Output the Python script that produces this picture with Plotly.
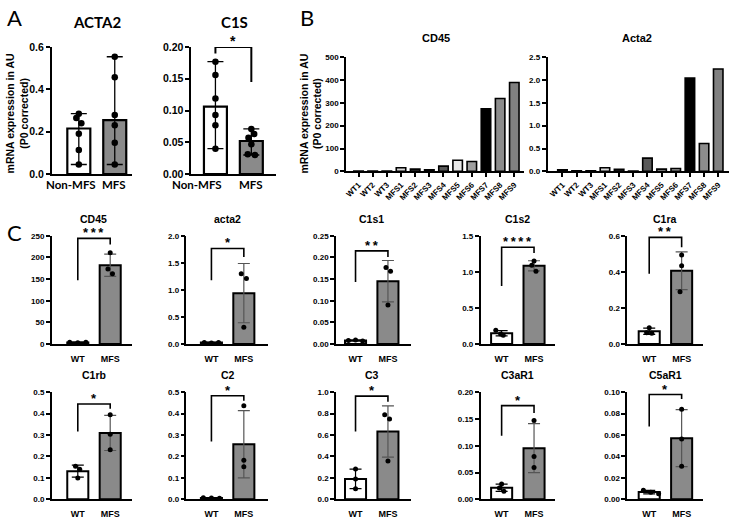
import numpy as np
import plotly.graph_objects as go

W, H = 730, 520

# ---------------- data ----------------
# Panel A (median with range, n=6)
a_groups = ["Non-MFS", "MFS"]
a_acta2_nonmfs = [0.285, 0.265, 0.240, 0.190, 0.113, 0.045]
a_acta2_mfs = [0.554, 0.457, 0.279, 0.230, 0.148, 0.045]
a_c1s_nonmfs = [0.177, 0.156, 0.119, 0.093, 0.077, 0.040]
a_c1s_mfs = [0.071, 0.063, 0.057, 0.047, 0.031, 0.030]

# Panel B (single samples)
b_samples = ["WT1", "WT2", "WT3", "MFS1", "MFS2", "MFS3", "MFS4", "MFS5", "MFS6", "MFS7", "MFS8", "MFS9"]
b_cd45 = [1, 2, 2, 16, 10, 7, 23, 49, 43, 274, 319, 389]
b_acta2 = [0.036, 0.014, 0.014, 0.079, 0.043, 0.010, 0.290, 0.050, 0.064, 2.04, 0.61, 2.24]

# Panel C (mean +/- SD, n=3)
c_groups = ["WT", "MFS"]
c_genes = ["CD45", "acta2", "C1s1", "C1s2", "C1ra", "C1rb", "C2", "C3", "C3aR1", "C5aR1"]
cd45_wt, cd45_mfs = [4, 3, 4], [211, 173, 162]
acta2_wt, acta2_mfs = [0.03, 0.02, 0.03], [1.30, 1.21, 0.31]
c1s1_wt, c1s1_mfs = [0.008, 0.009, 0.007], [0.177, 0.168, 0.090]
c1s2_wt, c1s2_mfs = [0.19, 0.14, 0.12], [1.15, 1.09, 1.01]
c1ra_wt, c1ra_mfs = [0.090, 0.063, 0.059], [0.494, 0.434, 0.290]
c1rb_wt, c1rb_mfs = [0.155, 0.140, 0.100], [0.395, 0.304, 0.231]
c2_wt, c2_mfs = [0.007, 0.006, 0.005], [0.437, 0.182, 0.152]
c3_wt, c3_mfs = [0.283, 0.189, 0.100], [0.790, 0.750, 0.358]
c3ar1_wt, c3ar1_mfs = [0.0286, 0.0213, 0.0151], [0.147, 0.080, 0.0596]
c5ar1_wt, c5ar1_mfs = [0.0085, 0.0067, 0.0052], [0.0841, 0.0562, 0.0310]
c_sig = ["***", "*", "**", "****", "**", "*", "*", "*", "*", "*"]

c_wt = [cd45_wt, acta2_wt, c1s1_wt, c1s2_wt, c1ra_wt, c1rb_wt, c2_wt, c3_wt, c3ar1_wt, c5ar1_wt]
c_mfs = [cd45_mfs, acta2_mfs, c1s1_mfs, c1s2_mfs, c1ra_mfs, c1rb_mfs, c2_mfs, c3_mfs, c3ar1_mfs, c5ar1_mfs]

# ---------------- styles / geometry ----------------
FONT = "Liberation Sans"
HUM = "Lato"
GRAY = "#8a8a8a"
b_fill = ["#1a1a1a", "#3a3a3a", "#5a5a5a", "#d9d9d9", "#404040", "#111111",
          "#595959", "#e8e8e8", "#a0a0a0", "#000000", "#8c8c8c", "#808080"]

# C y-axes: (top, dtick, format)
c_yaxis = [(250, 50, ".0f"), (2.0, 0.5, ".1f"), (0.25, 0.05, ".2f"), (1.5, 0.5, ".1f"), (0.6, 0.2, ".1f"),
           (0.5, 0.1, ".1f"), (0.5, 0.1, ".1f"), (1.0, 0.2, ".1f"), (0.20, 0.05, ".2f"), (0.10, 0.02, ".2f")]
# bracket heights (top, left leg end, right leg end) in data units
c_brackets = [(244, 147, 230), (1.765, 1.18, 1.61), (0.215, 0.143, 0.201), (1.34, 0.805, 1.26),
              (0.591, 0.389, 0.537), (0.445, 0.316, 0.4225), (0.483, 0.27, 0.46), (0.963, 0.632, 0.91),
              (0.175, 0.1185, 0.161), (0.0978, 0.068, 0.0936)]
# dot horizontal jitter
c_jit_wt = [[-0.25, 0, 0.25], [-0.22, 0, 0.22], [-0.22, 0, 0.22], [-0.18, -0.03, 0.05], [0, -0.08, 0.08],
            [-0.07, 0.06, 0], [-0.25, 0, 0.25], [0, 0, 0], [0, -0.07, 0.07], [-0.18, 0.05, 0.29]]
c_jit_mfs = [[0, -0.07, 0.07], [-0.08, 0.08, 0], [-0.06, 0.08, 0], [0, -0.07, 0.06], [0, 0, -0.05],
             [0, 0, 0], [0, 0, 0], [-0.1, 0.05, 0], [0, 0, 0], [0, 0, 0]]
c_cols = [(50, 76, 130), (185, 210, 267), (335, 354.5, 410), (480, 501, 555), (627, 649, 703)]
c_rows = [(235.2, 346), (395.3, 505)]
C_PPU = 32.5
THIN = "\u2009"


def xd(x0, x1):
    return [x0 / W, x1 / W]


def yd(top, bot):
    return [1 - bot / H, 1 - top / H]


layout = dict(width=W, height=H, margin=dict(l=0, r=0, t=0, b=0), paper_bgcolor="white",
              plot_bgcolor="white", showlegend=False)
shapes, annotations = [], []
traces = []
count = [0]


def new_axes(xpx, ypx, xr, yr, dtick, fmt, tickvals, ticktext, tfont, cfont, lw, tlen,
             xangle=0, xticks="outside", xtlen=4, xtcol="black", showx=True):
    count[0] += 1
    n = count[0]
    sx = "" if n == 1 else str(n)
    xref, yref = "x" + sx, "y" + sx
    layout["xaxis" + sx] = dict(domain=xd(*xpx), range=xr, anchor=yref, showline=True, linecolor="black",
                                linewidth=lw, ticks=xticks, ticklen=xtlen, tickwidth=lw, tickcolor=xtcol,
                                tickmode="array", tickvals=tickvals, ticktext=ticktext, tickfont=cfont,
                                showticklabels=showx,
                                tickangle=xangle, showgrid=False, zeroline=False, fixedrange=True)
    layout["yaxis" + sx] = dict(domain=yd(*ypx), range=yr, anchor=xref, showline=True, linecolor="black",
                                linewidth=lw, ticks="outside", ticklen=tlen, tickwidth=lw, tickcolor="black",
                                tick0=0, dtick=dtick, tickformat=fmt, tickfont=tfont, showgrid=False,
                                zeroline=False, fixedrange=True)
    return xref, yref


def bracket(xref, yref, top, yl, yr_, star, lw, size):
    shapes.append(dict(type="path", xref=xref, yref=yref, layer="above",
                       path=f"M 0,{yl} L 0,{top} L 1,{top} L 1,{yr_}",
                       line=dict(color="black", width=lw)))
    annotations.append(dict(xref=xref, yref=yref, x=0.5, y=top, text=THIN.join(star), showarrow=False,
                            yanchor="bottom", xanchor="center", yshift=-4,
                            font=dict(family=FONT, size=size, color="black", weight="bold")))


def label(x, y, text, size, family=FONT, bold=True, angle=0):
    annotations.append(dict(xref="paper", yref="paper", x=x / W, y=1 - y / H, text=text, showarrow=False,
                            xanchor="center", yanchor="middle", textangle=angle,
                            font=dict(family=family, size=size, color="black",
                                      weight="bold" if bold else "normal")))


# ---------------- Panel A ----------------
a_sets = [("ACTA2", a_acta2_nonmfs, a_acta2_mfs, (50, 130), [-0.75, 1.47], [0, 0.6], 0.2, ".1f", 95,
           (-0.21, -0.03)),
          ("C1S", a_c1s_nonmfs, a_c1s_mfs, (190, 275), [-0.667, 1.694], [0, 0.2], 0.05, ".2f", 233,
           (-0.5, -0.02))]
a_jit = [([0, -0.07, 0.07, 0, 0, 0], [0, 0, 0, 0, 0, 0]),
         ([0, 0, 0, 0, 0, 0], [0, 0.08, -0.08, 0, -0.1, 0.1])]
for k, (title, g0, g1, xpx, xr, yr, dt, fmt, tx, lab_off) in enumerate(a_sets):
    xr_, yr_ = new_axes(xpx, (42, 172), xr, yr, dt, fmt, [0, 1], a_groups,
                        dict(family=FONT, size=10.5, color="black", weight="bold"),
                        dict(family=HUM, size=11, color="black", weight="bold"), 2, 4,
                        xticks="", showx=False)
    med = [float(np.median(g0)), float(np.median(g1))]
    lo = [med[0] - min(g0), med[1] - min(g1)]
    hi = [max(g0) - med[0], max(g1) - med[1]]
    traces.append(go.Bar(x=[0, 1], y=med, width=0.64, xaxis=xr_, yaxis=yr_,
                         marker=dict(color=["white", GRAY], line=dict(color="black", width=2.2))))
    traces.append(go.Scatter(x=[0, 1], y=med, mode="markers", marker=dict(size=1, opacity=0),
                             xaxis=xr_, yaxis=yr_,
                             error_y=dict(type="data", symmetric=False, array=hi, arrayminus=lo,
                                          color="black", thickness=1.3, width=8)))
    for gi, g in enumerate([g0, g1]):
        traces.append(go.Scatter(x=[gi + j for j in a_jit[k][gi]], y=g, mode="markers",
                                 xaxis=xr_, yaxis=yr_, marker=dict(color="black", size=6.5)))
        # category label under each bar
        annotations.append(dict(xref=xr_, yref="paper", x=gi + lab_off[gi], y=1 - 183 / H,
                                text=a_groups[gi], showarrow=False, xanchor="center", yanchor="middle",
                                font=dict(family=HUM, size=11.5, color="black", weight="bold")))
    label(tx, 16, title, 15, family=HUM)
    if k == 1:
        bracket(xr_, yr_, 0.2, 0.19, 0.145, "*", 2, 14)

label(16, 110, "mRNA expression in AU<br>(P0 corrected)", 10.5, angle=-90)
label(13, 12, "A", 22, family=HUM, bold=False)

# ---------------- Panel B ----------------
b_sets = [("CD45", b_cd45, (345, 523), 357.5, [0, 500], 100, ".0f", 435),
          ("Acta2", b_acta2, (547, 729), 562, [0, 2.5], 0.5, ".1f", 637)]
B_PPU = 14.2
for title, vals, xpx, c0, yr, dt, fmt, tx in b_sets:
    xr = [-(c0 - xpx[0]) / B_PPU, (xpx[1] - c0) / B_PPU]
    xr_, yr_ = new_axes(xpx, (52.3, 169.3), xr, yr, dt, fmt, list(range(len(b_samples))), b_samples,
                        dict(family=FONT, size=8, color="black", weight="bold"),
                        dict(family=FONT, size=8, color="black", weight="bold"), 1.6, 4,
                        xangle=-45)
    traces.append(go.Bar(x=list(range(len(vals))), y=vals, width=0.67, xaxis=xr_, yaxis=yr_,
                         marker=dict(color=b_fill, line=dict(color="black", width=1.6))))
    label(tx, 33, title, 11)

label(310, 110, "mRNA expression in AU<br>(P0 corrected)", 10.5, angle=-90)
label(306, 12, "B", 22, family=HUM, bold=False)

# ---------------- Panel C ----------------
for i, gene in enumerate(c_genes):
    r, c = divmod(i, 5)
    ax0, c0, ax1 = c_cols[c]
    xr = [-(c0 - ax0) / C_PPU, (ax1 - c0) / C_PPU]
    top, dt, fmt = c_yaxis[i]
    xr_, yr_ = new_axes((ax0, ax1), c_rows[r], xr, [0, top], dt, fmt, [0, 1], c_groups,
                        dict(family=FONT, size=8, color="black", weight="bold"),
                        dict(family=FONT, size=9, color="black", weight="bold"), 1.6, 4,
                        xtlen=5, xtcol="rgba(0,0,0,0)")
    wt, mf = c_wt[i], c_mfs[i]
    means = [float(np.mean(wt)), float(np.mean(mf))]
    sds = [float(np.std(wt, ddof=1)), float(np.std(mf, ddof=1))]
    traces.append(go.Bar(x=[0, 1], y=means, width=0.65, xaxis=xr_, yaxis=yr_,
                         marker=dict(color=["white", GRAY], line=dict(color="black", width=2))))
    for gi, col in enumerate(["black", "#555555"]):
        traces.append(go.Scatter(x=[gi], y=[means[gi]], mode="markers", marker=dict(size=1, opacity=0),
                                 xaxis=xr_, yaxis=yr_,
                                 error_y=dict(type="data", array=[sds[gi]], color=col, thickness=1.2,
                                              width=6)))
    for gi, (g, jit) in enumerate([(wt, c_jit_wt[i]), (mf, c_jit_mfs[i])]):
        traces.append(go.Scatter(x=[gi + j for j in jit], y=g, mode="markers", xaxis=xr_, yaxis=yr_,
                                 marker=dict(color="black", size=5)))
    tb, tl, tr = c_brackets[i]
    bracket(xr_, yr_, tb, tl, tr, c_sig[i], 1.6, 13)
    label((c0 + c0 + C_PPU) / 2, 218 if r == 0 else 378, gene, 10.5)

label(13, 232, "C", 22, family=HUM, bold=False)

layout["shapes"] = shapes
layout["annotations"] = annotations
fig = go.Figure(data=traces, layout=layout)
fig.write_html("out.html", config={"displayModeBar": False},
               post_script="document.body.style.margin='0px';document.body.style.overflow='hidden';")
